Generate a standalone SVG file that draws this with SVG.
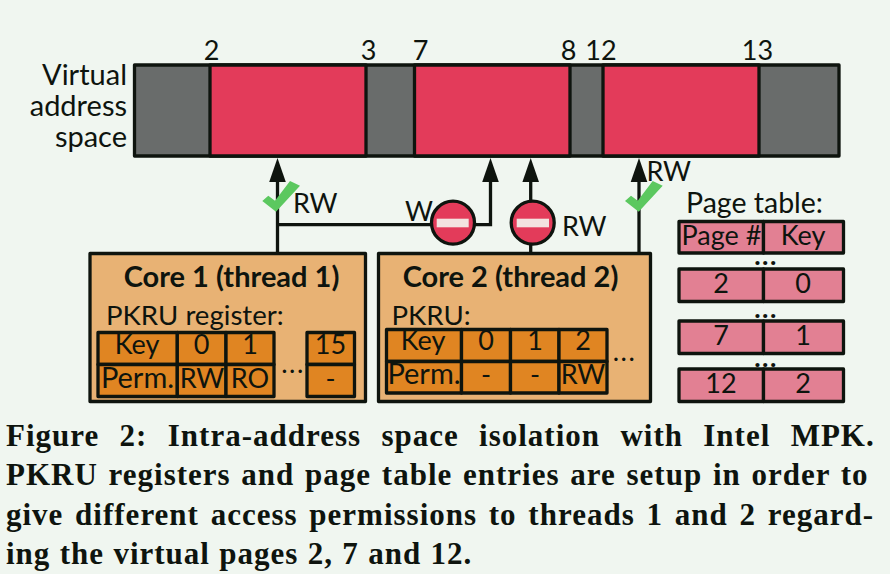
<svg xmlns="http://www.w3.org/2000/svg" width="890" height="574" viewBox="0 0 890 574">
<style>
text{font-family:Lato,"Liberation Sans",sans-serif;font-size:27px;fill:#0e140e}
.m{text-anchor:middle}
.e{text-anchor:end}
.b{font-weight:700;font-size:29px}
.w{font-size:29px}
.p{font-size:27.6px}
.d{letter-spacing:1.5px}
.cap{font-family:"Liberation Serif",serif;font-weight:700;font-size:31px;letter-spacing:1px}
.s{stroke:#0e140e;stroke-width:3.3;stroke-linejoin:round}
.l{stroke:#0e140e;stroke-width:3.3;fill:none}
.gr{fill:#696c6b}.re{fill:#e33b5a}.lo{fill:#e8b274}.do{fill:#e08522}.pk{fill:#e28093}
.ok{fill:#5bc85f}
.bar{fill:#f3e3e0}
.hd{fill:#0e140e}
</style>
<defs>
<path id="tick" d="M262.3 201L268.3 195.7L275 200.7L290 181L300 185.7L276 211.7Z"/>
</defs>
<rect width="890" height="574" fill="#f0f6f0"/>
<g id="address-space">
<rect class="s gr" x="134.5" y="65" width="704.5" height="91"/>
<rect class="s re" x="210" y="65" width="156" height="91"/>
<rect class="s re" x="414.5" y="65" width="155.5" height="91"/>
<rect class="s re" x="603" y="65" width="156" height="91"/>
<text class="e w" x="127"><tspan x="127" y="84.5">Virtual</tspan><tspan x="127" y="116">address</tspan><tspan x="127" y="147">space</tspan></text>
<text class="m" x="211.5" y="60">2</text>
<text class="m" x="368.5" y="60">3</text>
<text class="m" x="420.5" y="60">7</text>
<text class="m" x="568.5" y="60">8</text>
<text class="m" x="601" y="60">12</text>
<text class="m" x="757.5" y="60">13</text>
</g>
<g id="connectors">
<path class="l" d="M277.5 253V182"/>
<path class="hd" d="M277.5 158L285.8 182H269.2Z"/>
<path class="l" d="M277.5 224.7H490.5V182"/>
<path class="hd" d="M490.5 158L498.8 182H482.2Z"/>
<path class="l" d="M530.7 253V182"/>
<path class="hd" d="M530.7 158L539 182H522.4Z"/>
<path class="l" d="M639 253V182"/>
<path class="hd" d="M639 158L647.3 182H630.7Z"/>
</g>
<g id="access-core1">
<use href="#tick" class="ok"/>
<text x="293" y="212.5">RW</text>
</g>
<g id="denied-write">
<circle class="s re" cx="453" cy="222.7" r="21.5"/>
<rect class="bar" x="436.7" y="218.7" width="32" height="8.6"/>
<text x="405" y="220.5">W</text>
</g>
<g id="denied-rw">
<circle class="s re" cx="532.7" cy="222.7" r="21.5"/>
<rect class="bar" x="516.7" y="218.7" width="32.3" height="8.6"/>
<text x="562" y="235.5">RW</text>
</g>
<g id="access-core2">
<use href="#tick" class="ok" x="362.7"/>
<text x="646.5" y="180.5">RW</text>
</g>
<g id="core1">
<rect class="s lo" x="90" y="253.5" width="275.5" height="148"/>
<text class="m b" x="231.5" y="286.5">Core 1 (thread 1)</text>
<text class="p" x="106" y="325">PKRU register:</text>
<rect class="s do" x="98" y="332.5" width="79.3" height="32"/>
<rect class="s do" x="177.3" y="332.5" width="48.7" height="32"/>
<rect class="s do" x="226" y="332.5" width="48" height="32"/>
<rect class="s do" x="98" y="364.5" width="79.3" height="32"/>
<rect class="s do" x="177.3" y="364.5" width="48.7" height="32"/>
<rect class="s do" x="226" y="364.5" width="48" height="32"/>
<rect class="s do" x="307" y="332.5" width="47.5" height="32"/>
<rect class="s do" x="307" y="364.5" width="47.5" height="32"/>
<text class="m" x="137" y="354">Key</text>
<text class="m" x="201.5" y="354">0</text>
<text class="m" x="250" y="354">1</text>
<text class="m" x="330.5" y="354">15</text>
<text class="m w" x="137.5" y="387.5">Perm.</text>
<text class="m" x="202" y="387.5">RW</text>
<text class="m" x="250" y="387.5">RO</text>
<text class="m" x="330.5" y="387.5">-</text>
<text class="m d" x="293" y="373">...</text>
</g>
<g id="core2">
<rect class="s lo" x="378.5" y="253.5" width="272" height="148"/>
<text class="m b" x="510.5" y="286.5">Core 2 (thread 2)</text>
<text class="p" x="391.5" y="325">PKRU:</text>
<rect class="s do" x="386.5" y="329.5" width="75" height="32"/>
<rect class="s do" x="461.5" y="329.5" width="49" height="32"/>
<rect class="s do" x="510.5" y="329.5" width="48.5" height="32"/>
<rect class="s do" x="559" y="329.5" width="48" height="32"/>
<rect class="s do" x="386.5" y="361.5" width="75" height="31.5"/>
<rect class="s do" x="461.5" y="361.5" width="49" height="31.5"/>
<rect class="s do" x="510.5" y="361.5" width="48.5" height="31.5"/>
<rect class="s do" x="559" y="361.5" width="48" height="31.5"/>
<text class="m" x="423" y="350">Key</text>
<text class="m" x="486" y="350">0</text>
<text class="m" x="535" y="350">1</text>
<text class="m" x="583" y="350">2</text>
<text class="m w" x="424" y="384">Perm.</text>
<text class="m" x="486" y="384">-</text>
<text class="m" x="535" y="384">-</text>
<text class="m" x="583" y="384">RW</text>
<text class="m d" x="624.5" y="361">...</text>
</g>
<g id="page-table">
<text x="686" y="212.5" style="font-size:28.5px">Page table:</text>
<rect class="s pk" x="679" y="221.5" width="84.5" height="31.5"/>
<rect class="s pk" x="763.5" y="221.5" width="80" height="31.5"/>
<rect class="s pk" x="679" y="269" width="84.5" height="32.5"/>
<rect class="s pk" x="763.5" y="269" width="80" height="32.5"/>
<rect class="s pk" x="679" y="321" width="84.5" height="32.5"/>
<rect class="s pk" x="763.5" y="321" width="80" height="32.5"/>
<rect class="s pk" x="679" y="369" width="84.5" height="32.5"/>
<rect class="s pk" x="763.5" y="369" width="80" height="32.5"/>
<text class="m" x="721.5" y="245">Page #</text>
<text class="m" x="803" y="245">Key</text>
<text class="m" x="721" y="292.5">2</text>
<text class="m" x="803" y="292.5">0</text>
<text class="m" x="721" y="345">7</text>
<text class="m" x="803" y="345">1</text>
<text class="m" x="721" y="393">12</text>
<text class="m" x="803" y="393">2</text>
<text class="m d" x="766" y="265" style="font-weight:700">...</text>
<text class="m d" x="766" y="317.5" style="font-weight:700">...</text>
<text class="m d" x="766" y="366.5" style="font-weight:700">...</text>
</g>
<g id="caption">
<text class="cap" x="6" y="446" style="word-spacing:11.6px">Figure 2: Intra-address space isolation with Intel MPK.</text>
<text class="cap" x="6" y="485" style="word-spacing:2px">PKRU registers and page table entries are setup in order to</text>
<text class="cap" x="6" y="524.5" style="word-spacing:3px">give different access permissions to threads 1 and 2 regard-</text>
<text class="cap" x="6" y="563.5" style="word-spacing:.6px">ing the virtual pages 2, 7 and 12.</text>
</g>
</svg>
